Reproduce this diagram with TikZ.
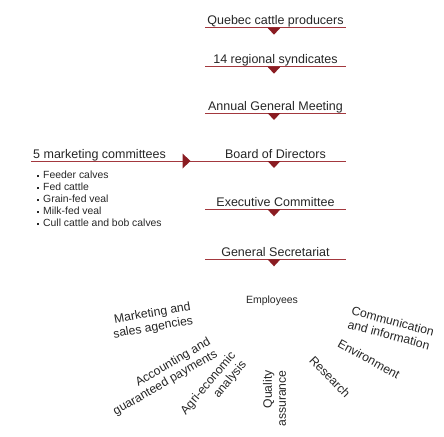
\documentclass[tikz,border=0pt]{standalone}
\usepackage{fontspec}
\setmainfont{Liberation Sans}
\usepackage{xcolor}
\usetikzlibrary{positioning}
\definecolor{fpbred}{HTML}{8A1C22}
\definecolor{fpbline}{HTML}{A3383E}
\definecolor{fpbtext}{HTML}{262626}
\newcommand{\sqbullet}{\raisebox{0.3ex}{\rule{2pt}{2pt}}\hspace{4pt}}

\begin{document}
\begin{tikzpicture}[
    x=1pt, y=-1pt,
    level/.style={font=\fontsize{12.5}{15}\selectfont, text=fpbtext, inner sep=0pt, text depth=2.7pt, minimum width=140pt, anchor=south},
    underline/.style={draw=fpbline, line width=0.9pt},
    pointer/.style={fill=fpbred},
    list/.style={font=\fontsize{10.4}{12}\selectfont, text=fpbtext, inner sep=0pt, align=left, anchor=north west},
    unit/.style={font=\fontsize{12.2}{14}\selectfont, text=fpbtext, inner sep=0pt},
]
\useasboundingbox (0,0) rectangle (444,436);

% Levels of the organisation
\node[level] (producers) at (275.5,27.7) {Quebec cattle producers};
\node[level] (syndicates) at (275.5,66.7) {14 regional syndicates};
\node[level] (agm) at (275.5,113) {Annual General Meeting};
\node[level] (board) at (275.5,161) {Board of Directors};
\node[level] (executive) at (275.5,209.3) {Executive Committee};
\node[level] (secretariat) at (275.5,259.3) {General Secretariat};

% Marketing committees
\node[level, minimum width=0pt, anchor=south west] (marketing) at (33,161) {5 marketing committees};
\node[list] (products) at (37,171) {\sqbullet Feeder calves\\ \sqbullet Fed cattle\\ \sqbullet Grain-fed veal\\ \sqbullet Milk-fed veal\\ \sqbullet Cull cattle and bob calves};

% Underlines
\draw[underline] (producers.south west) -- (producers.south east);
\draw[underline] (syndicates.south west) -- (syndicates.south east);
\draw[underline] (agm.south west) -- (agm.south east);
\draw[underline] ([xshift=-2pt]marketing.south west) -- (board.south east);
\draw[underline] (executive.south west) -- (executive.south east);
\draw[underline] (secretariat.south west) -- (secretariat.south east);

% Pointers
\fill[pointer] ([xshift=-8pt]producers.south) -- ([xshift=5pt]producers.south) -- ([xshift=-1.5pt,yshift=-7pt]producers.south) -- cycle;
\fill[pointer] ([xshift=-8pt]syndicates.south) -- ([xshift=5pt]syndicates.south) -- ([xshift=-1.5pt,yshift=-7pt]syndicates.south) -- cycle;
\fill[pointer] ([xshift=-8pt]agm.south) -- ([xshift=5pt]agm.south) -- ([xshift=-1.5pt,yshift=-7pt]agm.south) -- cycle;
\fill[pointer] ([xshift=-8pt]board.south) -- ([xshift=5pt]board.south) -- ([xshift=-1.5pt,yshift=-7pt]board.south) -- cycle;
\fill[pointer] ([xshift=-8pt]executive.south) -- ([xshift=5pt]executive.south) -- ([xshift=-1.5pt,yshift=-7pt]executive.south) -- cycle;
\fill[pointer] ([xshift=-8pt]secretariat.south) -- ([xshift=5pt]secretariat.south) -- ([xshift=-1.5pt,yshift=-7pt]secretariat.south) -- cycle;
\fill[pointer] ([xshift=-22.8pt,yshift=7.5pt]board.south west) -- ([xshift=-22.8pt,yshift=-7.5pt]board.south west) -- ([xshift=-14.8pt]board.south west) -- cycle;

% Employees and their units
\node[unit, font=\fontsize{10.5}{13}\selectfont] (employees) at (272,301) {Employees};
\node[unit, rotate=10, align=right] (sales) at (152,321) {Marketing and\\sales agencies};
\node[unit, rotate=30, align=right] (accounting) at (162,377) {Accounting and\\guaranteed payments};
\node[unit, rotate=50, align=right] (agri) at (214,388) {Agri-economic\\analysis};
\node[unit, rotate=90, align=right] (quality) at (274.5,398.5) {Quality\\assurance};
\node[unit, rotate=-46] (research) at (330,377) {Research};
\node[unit, rotate=-29] (environment) at (369,359) {Environment};
\node[unit, rotate=-15, align=left] (communication) at (391,328) {Communication\\and information};

\end{tikzpicture}
\end{document}
